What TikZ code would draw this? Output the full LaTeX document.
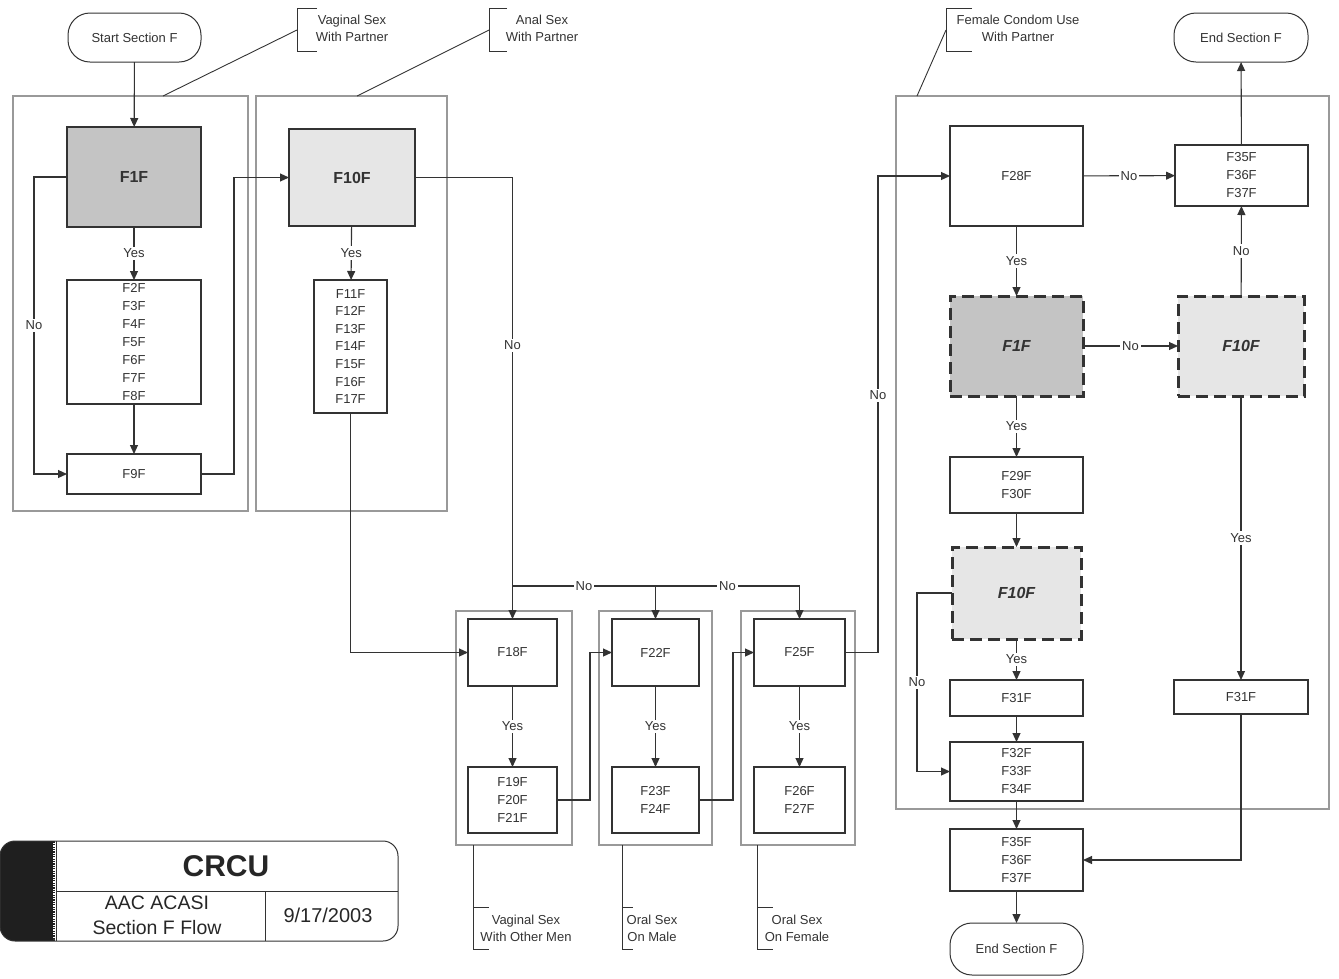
\documentclass[tikz,border=0pt]{standalone}
\usepackage{fontspec}
\setmainfont{Liberation Sans}
\usetikzlibrary{arrows.meta,calc}
\definecolor{lc}{HTML}{333333}
\definecolor{tc}{HTML}{333333}
\definecolor{frc}{HTML}{999999}
\definecolor{dk}{HTML}{C4C4C4}
\definecolor{lt}{HTML}{E6E6E6}
\begin{document}
\begin{tikzpicture}[x=1pt,y=-1pt,
  every node/.style={text=tc, font=\fontsize{13}{18}\selectfont, inner sep=0pt, outer sep=0pt, align=center},
  bx/.style 2 args={rectangle, draw=lc, line width=1.1pt, fill=white, minimum width=#1, minimum height=#2},
  frm/.style 2 args={rectangle, draw=frc, line width=1.6pt, minimum width=#1, minimum height=#2},
  term/.style 2 args={rectangle, draw=lc, line width=1pt, rounded corners=22pt, fill=white, minimum width=#1, minimum height=#2},
  dsh/.style={draw=lc, line width=3pt, dash pattern=on 12pt off 6pt},
  bigb/.style={font=\fontsize{16}{18}\selectfont\bfseries},
  bigi/.style={font=\fontsize{16}{18}\selectfont\bfseries\itshape},
  arr/.style={-{Triangle[length=9pt,width=8pt]}, draw=lc, line width=1.1pt},
  ln/.style={draw=lc, line width=1.1pt},
  an/.style={draw=lc, line width=0.9pt},
  lbl/.style={fill=white, inner sep=2pt},
  ann/.style={font=\fontsize{13}{17}\selectfont}
]
\useasboundingbox (0,0) rectangle (1339,978);

% ---------- frames ----------
\node[frm={235pt}{415pt}] (fr1) at (130.5,303.5) {};
\node[frm={191pt}{415pt}] (fr2) at (351.5,303.5) {};
\node[frm={116pt}{234pt}] (frA) at (514,728) {};
\node[frm={113pt}{234pt}] (frB) at (655.5,728) {};
\node[frm={114pt}{234pt}] (frC) at (798,728) {};
\node[frm={433pt}{713pt}] (frR) at (1112.5,452.5) {};

% ---------- left part ----------
\node[term={133pt}{49pt}] (start) at (134.5,37.5) {Start Section F};
\node[bx={134pt}{100pt}, fill=dk, bigb] (f1) at (134,177) {F1F};
\node[bx={134pt}{124pt}] (f2) at (134,342) {F2F\\F3F\\F4F\\F5F\\F6F\\F7F\\F8F};
\node[bx={134pt}{40pt}] (f9) at (134,474) {F9F};
\node[bx={126pt}{97pt}, fill=lt, bigb] (f10) at (352,177.5) {F10F};
\node[bx={73pt}{133pt}, font=\fontsize{13}{17.6}\selectfont] (f11) at (350.5,346.5) {F11F\\F12F\\F13F\\F14F\\F15F\\F16F\\F17F};

% ---------- middle ----------
\node[bx={89pt}{67pt}] (f18) at (512.5,652.5) {F18F};
\node[bx={89pt}{66pt}] (f19) at (512.5,800) {F19F\\F20F\\F21F};
\node[bx={87pt}{67pt}] (f22) at (655.5,652.5) {F22F};
\node[bx={87pt}{66pt}] (f23) at (655.5,800) {F23F\\F24F};
\node[bx={91pt}{67pt}] (f25) at (799.5,652.5) {F25F};
\node[bx={91pt}{66pt}] (f26) at (799.5,800) {F26F\\F27F};

% ---------- right part ----------
\node[term={134pt}{49pt}] (endt) at (1241,37.5) {End Section F};
\node[bx={133pt}{100pt}] (f28) at (1016.5,176) {F28F};
\node[bx={133pt}{61pt}] (f35a) at (1241.5,175.5) {F35F\\F36F\\F37F};
\node[bx={133pt}{100pt}, fill=dk, dsh, bigi] (f1d) at (1016.5,346) {F1F};
\node[bx={126pt}{100pt}, fill=lt, dsh, bigi] (f10d) at (1241,346) {F10F};
\node[bx={133pt}{56pt}] (f29) at (1016.5,485) {F29F\\F30F};
\node[bx={129pt}{92pt}, fill=lt, dsh, bigi] (f10e) at (1016.5,593) {F10F};
\node[bx={133pt}{36pt}] (f31a) at (1016.5,698) {F31F};
\node[bx={133pt}{59pt}] (f32) at (1016.5,771.5) {F32F\\F33F\\F34F};
\node[bx={134pt}{34pt}] (f31b) at (1241,697) {F31F};
\node[bx={133pt}{62pt}] (f35b) at (1016.5,860) {F35F\\F36F\\F37F};
\node[term={133pt}{52pt}] (endb) at (1016.5,949) {End Section F};

% ---------- connectors: left ----------
\draw[arr] (start) -- (f1);
\draw[arr] (f1) -- node[lbl]{Yes} (f2);
\draw[arr] (f2) -- (f9);
\draw[arr] (f1.west) -- ++(-33,0) |- node[lbl, pos=0.25]{No} (f9.west);
\draw[arr] (f9.east) -- ++(33,0) |- (f10.west);
\draw[arr] (f10) -- node[lbl]{Yes} (f11);
\draw[arr] (f10.east) -| node[lbl, pos=0.69]{No} (f18.north);
\draw[arr] (f11.south) |- (f18.west);

% ---------- connectors: middle ----------
\coordinate (b1) at (512.5,586);
\coordinate (b2) at (655.5,586);
\coordinate (b3) at (799.5,586);
\draw[ln] (b1) -- node[lbl]{No} (b2) -- node[lbl]{No} (b3);
\draw[arr] (b2) -- (f22.north);
\draw[arr] (b3) -- (f25.north);
\draw[arr] (f18) -- node[lbl]{Yes} (f19);
\draw[arr] (f22) -- node[lbl]{Yes} (f23);
\draw[arr] (f25) -- node[lbl]{Yes} (f26);
\draw[arr] (f19.east) -- ++(33,0) |- (f22.west);
\draw[arr] (f23.east) -- ++(34,0) |- (f25.west);
\draw[arr] (f25.east) -- ++(33,0) |- node[lbl, pos=0.27]{No} (f28.west);

% ---------- connectors: right ----------
\draw[arr] (f28) -- node[lbl]{No} (f35a);
\draw[arr] (f35a) -- (endt);
\draw[arr] (f28) -- node[lbl]{Yes} (f1d);
\draw[arr] (f1d) -- node[lbl]{No} (f10d);
\draw[arr] (f10d) -- node[lbl]{No} (f35a);
\draw[arr] (f10d) -- node[lbl]{Yes} (f31b);
\draw[arr] (f1d) -- node[lbl]{Yes} (f29);
\draw[arr] (f29) -- (f10e);
\draw[arr] (f10e) -- node[lbl]{Yes} (f31a);
\draw[arr] (f10e.west) -- ++(-35,0) |- node[lbl, pos=0.25]{No} (f32.west);
\draw[arr] (f31a) -- (f32);
\draw[arr] (f32) -- (f35b);
\draw[arr] (f31b.south) |- (f35b.east);
\draw[arr] (f35b) -- (endb);

% ---------- annotations ----------
\node[ann] (a1) at (352,28.5) {Vaginal Sex\\With Partner};
\draw[an] (317,8) -- (297,8) -- (297,51) -- (317,51);
\draw[an] (297,30) -- (fr1.north -| 163,0);
\node[ann] (a2) at (542,28.5) {Anal Sex\\With Partner};
\draw[an] (507,8) -- (489,8) -- (489,51) -- (507,51);
\draw[an] (489,30) -- (fr2.north -| 357,0);
\node[ann] (a3) at (1018,28.5) {Female Condom Use\\With Partner};
\draw[an] (972,8) -- (946,8) -- (946,51) -- (972,51);
\draw[an] (946,30) -- (frR.north -| 917,0);

\node[ann] (a4) at (526,928.5) {Vaginal Sex\\With Other Men};
\draw[an] (frA.south -| 473,0) -- (473,949) -- (489,949);
\draw[an] (473,907) -- (489,907);
\node[ann] (a5) at (652,928.5) {Oral Sex\\On Male};
\draw[an] (frB.south -| 622,0) -- (622,949) -- (633,949);
\draw[an] (622,907) -- (633,907);
\node[ann] (a6) at (797,928.5) {Oral Sex\\On Female};
\draw[an] (frC.south -| 757,0) -- (757,949) -- (773,949);
\draw[an] (757,907) -- (773,907);

% ---------- title block ----------
\begin{scope}
\clip[rounded corners=15pt] (0,841) rectangle (398,941);
\fill[black!88] (0,841) rectangle (55,941);
\end{scope}
\draw[white, line width=1.5pt, dash pattern=on 1.2pt off 1.2pt] (54,843) -- (54,939);
\draw[lc, line width=1pt, rounded corners=15pt] (0,841) rectangle (398,941);
\draw[lc, line width=1pt] (56,841) -- (56,941);
\draw[lc, line width=1pt] (56,891) -- (398,891);
\draw[lc, line width=1pt] (265,891) -- (265,941);
\node[font=\fontsize{30}{32}\selectfont\bfseries, text=black!85] (crcu) at (226,866) {CRCU};
\node[font=\fontsize{19.5}{25}\selectfont, text=black!85] (aac) at (157,915) {AAC ACASI\\Section F Flow};
\node[font=\fontsize{20}{24}\selectfont, text=black!85] (date) at (328,915) {9/17/2003};
\end{tikzpicture}
\end{document}
